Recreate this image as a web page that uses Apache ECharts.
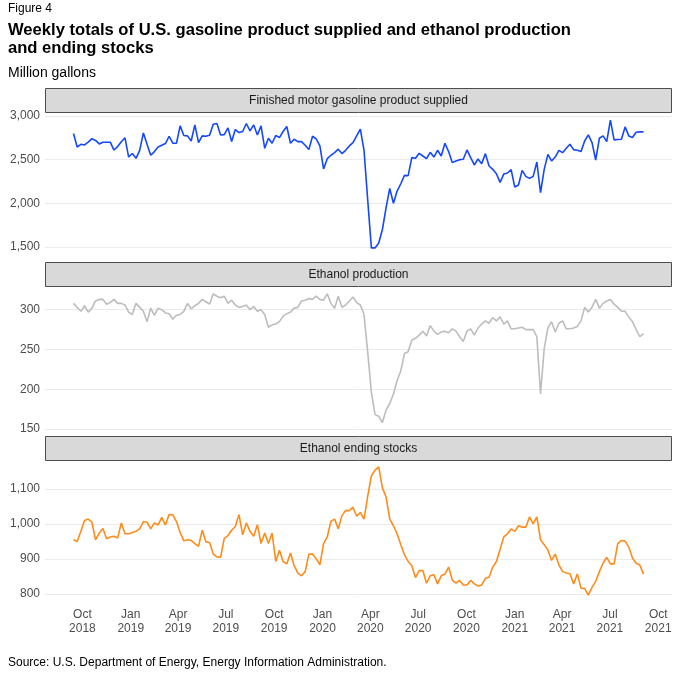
<!DOCTYPE html>
<html>
<head>
<meta charset="utf-8">
<script src="https://cdn.jsdelivr.net/npm/echarts@6/dist/echarts.min.js"></script>
<style>
  html, body { margin: 0; padding: 0; background: #fff; }
  #chart { width: 680px; height: 680px; }
</style>
</head>
<body>
<div id="chart"></div>
<script>
// weekly data, first week ending 14 Sep 2018, million gallons
var firstWeek = [2018, 8, 14];

var gasoline = [
  2800, 2645, 2676, 2668, 2700, 2740, 2720, 2680, 2700, 2700,
  2700, 2610, 2650, 2705, 2750, 2530, 2570, 2515, 2607, 2806,
  2676, 2550, 2592, 2645, 2665, 2684, 2768, 2688, 2688, 2887,
  2776, 2772, 2714, 2898, 2695, 2772, 2768, 2780, 2906, 2914,
  2783, 2787, 2864, 2707, 2845, 2810, 2822, 2914, 2830, 2898,
  2783, 2887, 2630, 2745, 2688, 2776, 2753, 2822, 2880, 2688,
  2734, 2707, 2707, 2665, 2615, 2768, 2737, 2657, 2393, 2511,
  2550, 2580, 2620, 2570, 2607, 2657, 2695, 2772, 2850, 2607,
  2040, 1489, 1489, 1546, 1700, 1950, 2170, 2000, 2140, 2224,
  2320, 2316, 2523, 2515, 2573, 2542, 2511, 2584, 2530, 2607,
  2542, 2688, 2592, 2466, 2485, 2500, 2504, 2611, 2523, 2439,
  2508, 2454, 2569, 2427, 2389, 2339, 2240, 2335, 2347, 2385,
  2186, 2209, 2377, 2308, 2285, 2308, 2473, 2121, 2389, 2561,
  2485, 2530, 2607, 2580, 2630, 2676, 2615, 2607, 2592, 2714,
  2783, 2695, 2496, 2745, 2772, 2707, 2952, 2726, 2730, 2734,
  2875, 2772, 2753, 2814, 2818, 2818
];

var ethanolProduction = [
  308, 303, 298, 305, 297, 302, 311, 313, 313, 307,
  309, 313, 308, 308, 306, 297, 294, 308, 303, 298,
  285, 302, 293, 302, 300, 296, 295, 288, 293, 294,
  298, 308, 301, 305, 308, 313, 310, 307, 320, 317,
  315, 317, 308, 312, 306, 303, 304, 306, 300, 304,
  298, 300, 294, 278, 281, 282, 285, 292, 295, 297,
  302, 303, 311, 312, 314, 313, 317, 313, 312, 320,
  308, 302, 317, 303, 306, 311, 316, 309, 306, 294,
  247, 196, 168, 166, 158, 174, 182, 194, 211, 223,
  245, 247, 262, 264, 268, 273, 267, 280, 273, 269,
  272, 273, 271, 276, 273, 266, 260, 273, 276, 268,
  277, 282, 286, 283, 290, 286, 291, 282, 286, 276,
  276, 277, 278, 275, 275, 275, 266, 194, 251, 277,
  285, 272, 283, 286, 276, 276, 277, 279, 286, 303,
  297, 303, 313, 302, 308, 311, 313, 307, 303, 298,
  298, 291, 285, 275, 266, 270
];

var ethanolStocks = [
  955, 950, 979, 1010, 1014, 1005, 955, 974, 987, 958,
  963, 965, 960, 1003, 972, 972, 976, 979, 986, 1007,
  1005, 986, 1003, 997, 1019, 997, 1027, 1026, 1007, 976,
  952, 955, 953, 944, 936, 982, 949, 947, 914, 906,
  905, 959, 967, 982, 993, 1027, 969, 1003, 979, 965,
  998, 944, 974, 944, 974, 893, 925, 893, 886, 917,
  881, 860, 852, 864, 914, 914, 901, 883, 944, 963,
  1008, 1014, 986, 1024, 1039, 1038, 1048, 1022, 1033, 1014,
  1079, 1137, 1154, 1163, 1103, 1077, 1014, 995, 972, 941,
  912, 893, 881, 847, 867, 867, 831, 852, 855, 829,
  852, 857, 877, 840, 831, 839, 826, 826, 839, 829,
  823, 826, 845, 848, 877, 893, 928, 963, 972, 986,
  979, 995, 991, 991, 1020, 1000, 1020, 955, 941, 926,
  896, 914, 883, 864, 860, 858, 829, 857, 817, 816,
  797, 819, 836, 864, 888, 905, 886, 886, 944, 953,
  951, 934, 903, 888, 883, 857
];

var panelTitles = [
  'Finished motor gasoline product supplied',
  'Ethanol production',
  'Ethanol ending stocks'
];
var panelColors = ['#1447ff', '#bdbdbd', '#ff8c1a'];
var yTickStep = [500, 50, 100];
var monthNames = ['Jan', 'Feb', 'Mar', 'Apr', 'May', 'Jun', 'Jul', 'Aug', 'Sep', 'Oct', 'Nov', 'Dec'];

var weeks = [];
for (var i = 0; i < gasoline.length; i++) {
  weeks.push(new Date(firstWeek[0], firstWeek[1], firstWeek[2] + 7 * i).getTime());
}
var span = weeks[weeks.length - 1] - weeks[0];
var xMin = weeks[0] - span * 0.05;
var xMax = weeks[weeks.length - 1] + span * 0.05;

function paired(values) {
  return values.map(function (v, i) { return [weeks[i], v]; });
}
function yRange(values) {
  var lo = Math.min.apply(null, values), hi = Math.max.apply(null, values);
  var pad = (hi - lo) * 0.05;
  return [lo - pad, hi + pad];
}
function commas(v) {
  return String(v).replace(/\B(?=(\d{3})+(?!\d))/g, ',');
}

var seriesValues = [gasoline, ethanolProduction, ethanolStocks];
var gridBox = [
  { top: 113.8, height: 140.5 },
  { top: 287.4, height: 141.6 },
  { top: 460.5, height: 141 }
];
var stripTop = [88, 262, 436];

var chartDom = document.getElementById('chart');
var myChart = echarts.init(chartDom, null, { renderer: 'canvas' });

var grids = [], xAxes = [], yAxes = [], series = [], graphics = [];

gridBox.forEach(function (g, k) {
  grids.push({ left: 45, right: 8, top: g.top, height: g.height, containLabel: false });
  var r = yRange(seriesValues[k]);
  var step = yTickStep[k];
  xAxes.push({
    type: 'time',
    gridIndex: k,
    min: xMin,
    max: xMax,
    splitNumber: 12,
    axisLine: { show: false },
    axisTick: { show: false },
    splitLine: { show: false },
    axisLabel: {
      show: k === 2,
      margin: 6,
      color: '#4d4d4d',
      fontFamily: 'Liberation Sans',
      fontSize: 12,
      lineHeight: 14,
      formatter: function (value) {
        var d = new Date(value);
        return monthNames[d.getMonth()] + '\n' + d.getFullYear();
      }
    }
  });
  yAxes.push({
    type: 'value',
    gridIndex: k,
    min: r[0],
    max: r[1],
    minInterval: step,
    maxInterval: step,
    axisLine: { show: false },
    axisTick: { show: false },
    splitLine: { show: true, showMinLine: false, showMaxLine: false, lineStyle: { color: '#ebebeb', width: 1 } },
    axisLabel: {
      margin: 5,
      color: '#4d4d4d',
      fontFamily: 'Liberation Sans',
      fontSize: 12,
      showMinLabel: false,
      showMaxLabel: false,
      formatter: function (v) {
        return Math.abs(v / step - Math.round(v / step)) < 1e-6 ? commas(Math.round(v)) : '';
      }
    }
  });
  series.push({
    type: 'line',
    xAxisIndex: k,
    yAxisIndex: k,
    data: paired(seriesValues[k]),
    showSymbol: false,
    lineStyle: { color: panelColors[k], width: 1.6 },
    itemStyle: { color: panelColors[k] },
    silent: true
  });
  graphics.push({
    type: 'rect',
    shape: { x: 45.5, y: stripTop[k] + 0.5, width: 626, height: 24 },
    style: { fill: '#d9d9d9', stroke: '#4d4d4d', lineWidth: 1 }
  });
  graphics.push({
    type: 'text',
    x: 358.5,
    y: stripTop[k] + 12.5,
    style: {
      text: panelTitles[k],
      fill: '#1a1a1a',
      font: '12px "Liberation Sans"',
      align: 'center',
      verticalAlign: 'middle'
    }
  });
});

graphics.push({
  type: 'text', x: 8, y: 3,
  style: { text: 'Figure 4', fill: '#000', font: '12px "Liberation Sans"' }
});
graphics.push({
  type: 'text', x: 8, y: 21,
  style: {
    text: 'Weekly totals of U.S. gasoline product supplied and ethanol production\nand ending stocks',
    fill: '#000', font: 'bold 16.6px "Liberation Sans"', lineHeight: 18
  }
});
graphics.push({
  type: 'text', x: 8, y: 66,
  style: { text: 'Million gallons', fill: '#000', font: '14px "Liberation Sans"' }
});
graphics.push({
  type: 'text', x: 8, y: 657,
  style: { text: 'Source: U.S. Department of Energy, Energy Information Administration.', fill: '#000', font: '12px "Liberation Sans"' }
});

var option = {
  animation: false,
  backgroundColor: '#fff',
  grid: grids,
  xAxis: xAxes,
  yAxis: yAxes,
  series: series,
  graphic: graphics
};

myChart.setOption(option);
</script>
</body>
</html>
